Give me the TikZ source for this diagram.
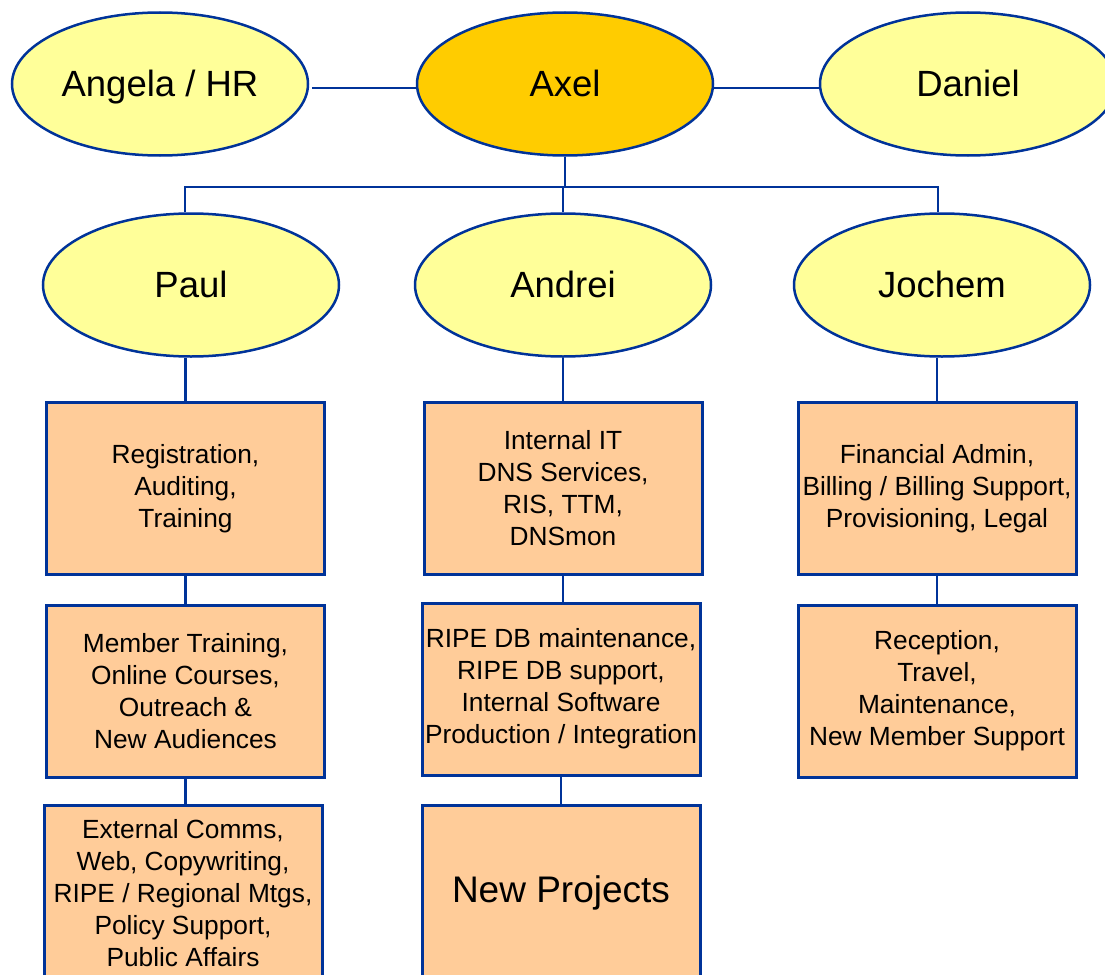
\documentclass[tikz,border=0pt]{standalone}
\usepackage{fontspec}
\setmainfont{Liberation Sans}
\usetikzlibrary{shapes.geometric,calc}
\definecolor{navy}{HTML}{003399}
\definecolor{pyellow}{HTML}{FFFF99}
\definecolor{pgold}{HTML}{FFCC00}
\definecolor{porange}{HTML}{FFCC99}
\begin{document}
\begin{tikzpicture}[x=1pt,y=-1pt,
  person/.style={ellipse, draw=navy, line width=2.5pt, fill=pyellow,
    minimum width=296pt, minimum height=143pt, inner sep=0pt,
    text height=24pt, text depth=0pt,
    font=\fontsize{36.5}{40}\selectfont},
  unitbox/.style={rectangle, draw=navy, line width=3pt, fill=porange,
    minimum width=278pt, minimum height=172pt, inner sep=0pt, align=center,
    font=\fontsize{26.3}{32}\selectfont},
  link/.style={draw=navy, line width=2.2pt}]
\useasboundingbox (0,0) rectangle (1105,974);

% top row
\node[person] (Angela) at (160,84) {Angela / HR};
\node[person, fill=pgold] (Axel) at (565,84) {Axel};
\node[person] (Daniel) at (968,84) {Daniel};

% second row
\node[person] (Paul) at (191,285) {Paul};
\node[person] (Andrei) at (563,285) {Andrei};
\node[person] (Jochem) at (942,285) {Jochem};

% column 1
\node[unitbox] (P1) at (185.5,488.5) {Registration,\\Auditing,\\Training};
\node[unitbox] (P2) at (185.5,691) {Member Training,\\Online Courses,\\Outreach \&\\New Audiences};
\node[unitbox, minimum height=175pt] (P3) at (183,893) {External Comms,\\Web, Copywriting,\\RIPE / Regional Mtgs,\\Policy Support,\\Public Affairs};

% column 2
\node[unitbox] (A1) at (563,488) {Internal IT\\DNS Services,\\RIS, TTM,\\DNSmon};
\node[unitbox] (A2) at (561,689) {RIPE DB maintenance,\\RIPE DB support,\\Internal Software\\Production / Integration};
\node[unitbox, minimum height=175pt, font=\fontsize{37}{40}\selectfont] (A3) at (561,893) {New Projects};

% column 3
\node[unitbox] (J1) at (937,488.5) {Financial Admin,\\Billing / Billing Support,\\Provisioning, Legal};
\node[unitbox] (J2) at (937,691) {Reception,\\Travel,\\Maintenance,\\New Member Support};

% connectors
\coordinate (busL) at (185,187);
\coordinate (busR) at (938,187);
\draw[link] ($(Angela.east)+(3,4)$) -- ($(Axel.west)+(0,4)$);
\draw[link] ($(Axel.east)+(0,4)$) -- ($(Daniel.west)+(0,4)$);
\draw[link] (Axel.south) -- (Axel.south |- busL);
\draw[link] (busL |- Paul.north) -- (busL) -- (busR) -- (busR |- Jochem.north);
\draw[link] (Andrei.north) -- (Andrei.north |- busL);

\draw[link] (Paul.south -| P1.north) -- (P1.north);
\draw[link] (P1.south) -- (P2.north);
\draw[link] (P2.south) -- (P2.south |- P3.north);

\draw[link] (Andrei.south) -- (A1.north);
\draw[link] (A1.south) -- (A1.south |- A2.north);
\draw[link] (A2.south) -- (A3.north);

\draw[link] (Jochem.south -| J1.north) -- (J1.north);
\draw[link] (J1.south) -- (J2.north);
\end{tikzpicture}
\end{document}
